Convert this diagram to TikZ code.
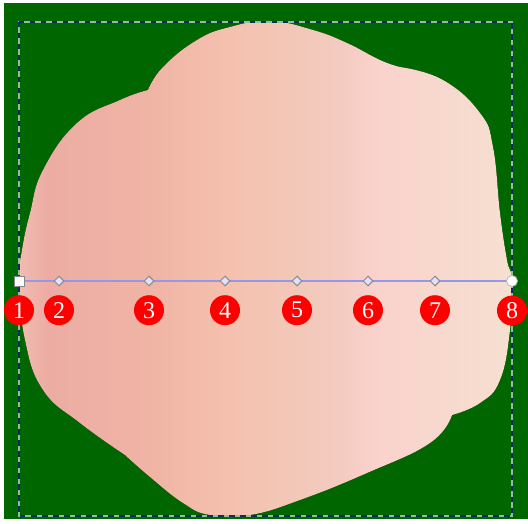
\documentclass[tikz,border=0pt]{standalone}
\usepackage{fontspec}
\setmainfont{Liberation Serif}
\usepackage{tikz}
\usetikzlibrary{positioning,shapes.geometric}

\definecolor{bggreen}{RGB}{0,102,0}
\definecolor{framenavy}{RGB}{10,45,100}
\definecolor{framelight}{RGB}{150,190,150}
\definecolor{handleblue}{RGB}{150,150,235}
\definecolor{knotgray}{RGB}{135,135,140}
\definecolor{knotfill}{RGB}{225,225,250}
\definecolor{pkA}{RGB}{241,188,178}
\definecolor{pkB}{RGB}{236,172,163}
\definecolor{pkC}{RGB}{240,180,165}
\definecolor{pkD}{RGB}{245,193,174}
\definecolor{pkE}{RGB}{242,200,185}
\definecolor{pkF}{RGB}{244,203,192}
\definecolor{pkG}{RGB}{250,210,204}
\definecolor{pkH}{RGB}{245,224,208}

\pgfdeclarehorizontalshading{blobshade}{100bp}{color(0bp)=(pkA); color(25bp)=(pkA);
  color(28bp)=(pkB); color(38.3bp)=(pkC); color(46.4bp)=(pkD); color(53.5bp)=(pkE);
  color(57.6bp)=(pkF); color(61.1bp)=(pkG); color(75bp)=(pkH); color(100bp)=(pkH)}

\begin{document}
\begin{tikzpicture}[x=1pt, y=-1pt,
  frameline/.style={line width=1.4pt},
  handle/.style={draw=handleblue, line width=1.5pt},
  knot/.style={diamond, draw=knotgray, fill=knotfill, line width=1pt, inner sep=0pt,
               minimum size=10pt},
  endsq/.style={rectangle, draw=knotgray, fill=white, line width=1pt, inner sep=0pt,
                minimum size=10pt},
  endcirc/.style={circle, draw=knotgray!60, fill=white, line width=0.8pt, inner sep=0pt,
                  minimum size=11pt},
  num/.style={circle, fill=red, text=white, inner sep=0pt, minimum size=30pt,
              font=\fontsize{24}{24}\selectfont}]
  \useasboundingbox (0,0) rectangle (528,524);
  \fill[bggreen] (4,3) rectangle (528,519);
  \fill[shading=blobshade]
    plot[smooth, tension=0.75] coordinates {(125,455) (80,423) (43,390) (25,340) (19,281)
      (22,250) (30,213) (43,170) (77,123) (120,100) (148,90)}
    -- plot[smooth, tension=0.75] coordinates {(148,90) (163,67) (197,40) (230,27) (270,21)
      (313,30) (347,43) (380,60) (400,67)}
    -- plot[smooth, tension=0.75] coordinates {(400,67) (443,80) (480,113) (493,147)
      (500,213) (507,260) (512,281) (510,330) (500,380) (480,403) (452,415)}
    -- plot[smooth, tension=0.75] coordinates {(452,415) (430,443) (367,473) (300,500)
      (250,515) (210,515) (183,503) (150,477) (125,455)}
    -- cycle;
  \draw[frameline, framelight] (19,22) rectangle (512,516);
  \draw[frameline, framenavy, dash pattern=on 5.5pt off 5.5pt] (19,22) rectangle (512,516);
  \coordinate (h1) at (19,281);
  \coordinate (h8) at (512,281);
  \draw[handle] (h1) -- (h8);
  \node[endsq] (k1) at (h1) {};
  \foreach \i/\x in {2/59, 3/149, 4/225, 5/297, 6/368, 7/435}
    \node[knot] (k\i) at (\x,281) {};
  \node[endcirc] (k8) at (h8) {};
  \foreach \i in {1,...,8}
    \node[num, below=8.5pt of k\i] (n\i) {\i};
\end{tikzpicture}
\end{document}
